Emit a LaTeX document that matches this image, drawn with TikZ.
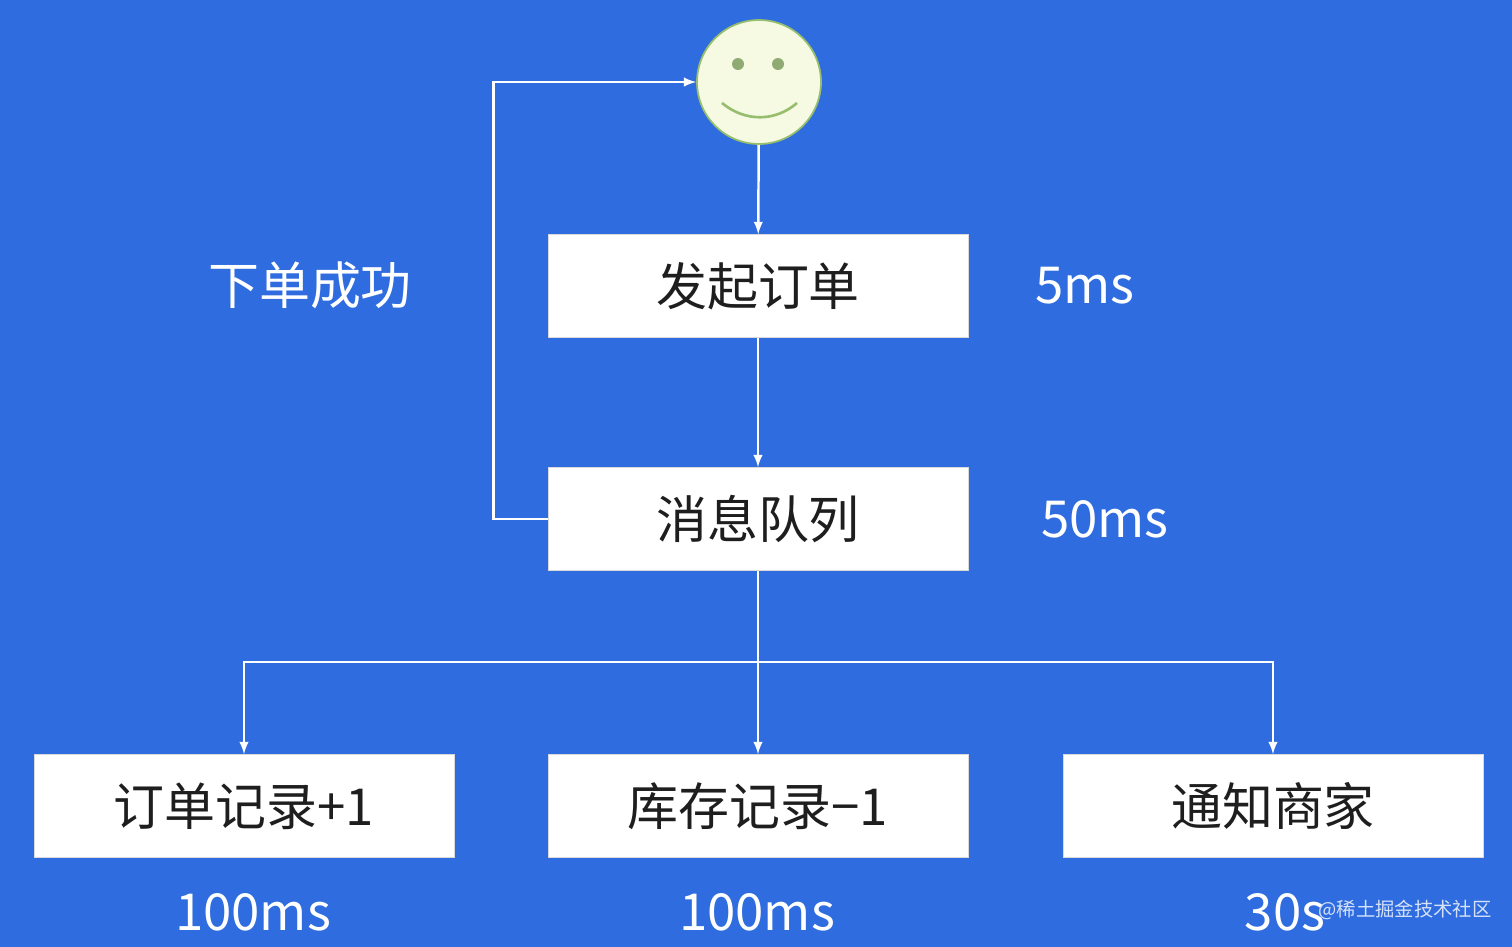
\documentclass[tikz,border=0pt]{standalone}
\usepackage{fontspec}
\setmainfont{Noto Sans CJK SC}
\usetikzlibrary{positioning}
\definecolor{bgblue}{RGB}{46,108,224}
\definecolor{facefill}{RGB}{246,250,226}
\definecolor{faceline}{RGB}{150,190,110}
\definecolor{boxtext}{RGB}{30,30,30}
\tikzstyle{stepbox} = [draw=white!85!black, fill=white, minimum width=8.4cm,
                       minimum height=2.06cm, text=boxtext, font=\fontsize{29}{32}\selectfont]
\tikzstyle{timing}  = [text=white, font=\fontsize{29}{32}\selectfont]
\tikzstyle{link}    = [draw=white, line width=1.4pt, -latex]

\begin{document}
\begin{tikzpicture}[x=0.02cm, y=0.02cm]

  \useasboundingbox[fill=bgblue] (0,0) rectangle (1512,-947);

% Face
  \node[circle, fill=facefill, draw=faceline, line width=1pt, minimum size=2.48cm,
        inner sep=0pt] (face) at (759,-82) {};
  \fill[faceline!70!gray] (738,-64) circle (6) (778,-64) circle (6);
  \draw[faceline, line width=1.5pt] (722,-103) .. controls (745,-122) and (775,-122) .. (797,-103);

% Steps
  \node[stepbox] (order) at (758,-286) {发起订单};
  \node[stepbox] (queue) at (758,-519) {消息队列};
  \node[stepbox] (rec)   at (244,-806) {订单记录+1};
  \node[stepbox] (stock) at (758,-806) {库存记录−1};
  \node[stepbox] (notify) at (1273,-806) {通知商家};

% Timings
  \node[timing] (t1) at (1085,-286) {5ms};
  \node[timing] (t2) at (1105,-519) {50ms};
  \node[timing] (t3) at (253,-912)  {100ms};
  \node[timing] (t4) at (757,-912)  {100ms};
  \node[timing] (t5) at (1285,-912) {30s};
  \node[timing] (ok) at (310,-285) {下单成功};
  \node[text=white!80!bgblue, font=\fontsize{11}{13}\selectfont] (mark) at (1405,-910) {@稀土掘金技术社区};

% Relations
  \coordinate (fork) at (758,-662);
  \draw[link] (face) -- (order);
  \draw[link] (order) -- (queue);
  \draw[link] (queue.west) -- ++(-54,0) |- (face.west);
  \draw[link] (queue) -- (stock);
  \draw[link] (fork) -| (rec.north);
  \draw[link] (fork) -| (notify.north);

\end{tikzpicture}
\end{document}
